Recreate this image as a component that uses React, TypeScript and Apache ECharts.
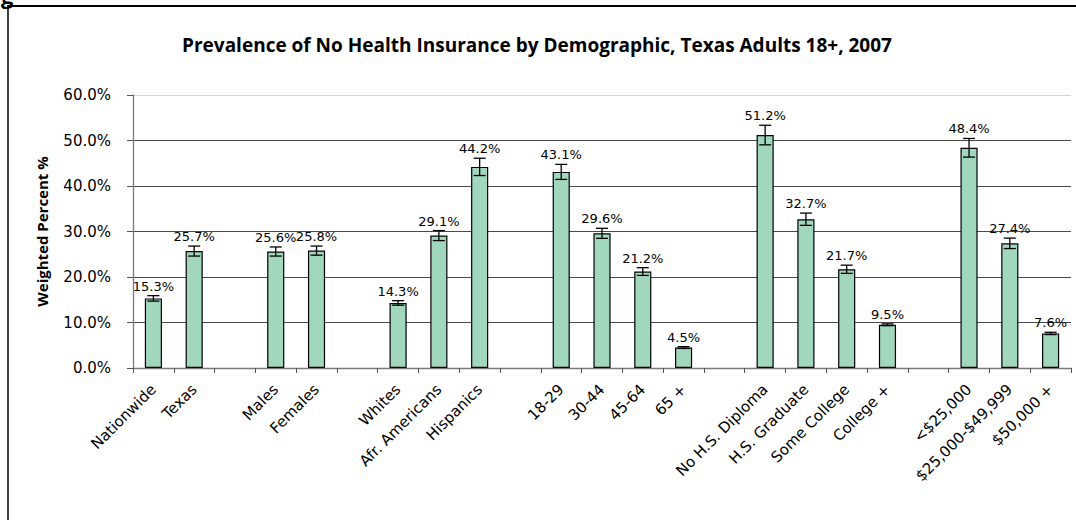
import React, { useEffect, useRef } from "react";
import * as echarts from "echarts";

const categories = [
  "Nationwide", "Texas", "",
  "Males", "Females", "",
  "Whites", "Afr. Americans", "Hispanics", "",
  "18-29", "30-44", "45-64", "65 +", "",
  "No H.S. Diploma", "H.S. Graduate", "Some College", "College +", "",
  "<$25,000", "$25,000-$49,999", "$50,000 +",
];
const values: (number | null)[] = [
  15.3, 25.7, null,
  25.6, 25.8, null,
  14.3, 29.1, 44.2, null,
  43.1, 29.6, 21.2, 4.5, null,
  51.2, 32.7, 21.7, 9.5, null,
  48.4, 27.4, 7.6,
];
const errors: (number | null)[] = [
  0.6, 1.1, null,
  1.0, 1.0, null,
  0.5, 1.1, 1.9, null,
  1.65, 1.1, 0.85, 0.2, null,
  2.15, 1.35, 0.9, 0.2, null,
  2.05, 1.15, 0.25,
];
const yTicks = [0, 10, 20, 30, 40, 50, 60];

const titleText = "Prevalence of No Health Insurance by Demographic, Texas Adults 18+, 2007";
const yAxisName = "Weighted Percent %";
const FONT = "'Open Sans', sans-serif";
const WIDE = "'DejaVu Sans', sans-serif";

export default function App() {
  const ref = useRef<HTMLDivElement>(null);
  useEffect(() => {
    document.body.style.margin = "0";
    document.body.style.overflow = "hidden";
    if (!ref.current) return;
    const chart = echarts.init(ref.current, null, { renderer: "svg" });
    const errData: any[] = [];
    values.forEach((v, i) => {
      if (v != null && errors[i] != null) {
        errData.push([i, v - (errors[i] as number), v + (errors[i] as number), v]);
      }
    });
    const gridColors = yTicks.map((t) => (t === 60 ? "#d4d4d4" : "#4a4a4a"));
    chart.setOption({
      animation: false,
      backgroundColor: "#ffffff",
      title: {
        text: titleText,
        left: 532,
        textAlign: "center",
        top: 30,
        textStyle: { fontFamily: FONT, fontSize: 19, fontWeight: "bold", color: "#000" },
      },
      graphic: [
        {
          type: "line",
          shape: { x1: 8, y1: 520, x2: 8, y2: 5.5 },
          style: { stroke: "#000", lineWidth: 1.5 },
          silent: true,
        },
        {
          type: "line",
          shape: { x1: 7.25, y1: 6, x2: 1076, y2: 6 },
          style: { stroke: "#000", lineWidth: 2 },
          silent: true,
        },
        {
          type: "text",
          x: 1,
          y: 6,
          style: {
            text: "g",
            fontFamily: FONT,
            fontSize: 22,
            fontWeight: "bold",
            fill: "#000",
            align: "left",
            verticalAlign: "bottom",
          },
          silent: true,
        },
      ],
      grid: { left: 133, right: 5, top: 95, bottom: 152, containLabel: false },
      xAxis: {
        type: "category",
        data: categories,
        boundaryGap: true,
        axisLine: { lineStyle: { color: "#7a7a7a", width: 1.3 } },
        axisTick: { show: true, alignWithLabel: false, interval: 0, length: 5, lineStyle: { color: "#555" } },
        axisLabel: {
          interval: 0,
          rotate: 45,
          fontFamily: WIDE,
          fontSize: 15,
          color: "#000",
          margin: 19,
        },
      },
      yAxis: {
        type: "value",
        min: 0,
        max: 60,
        interval: 10,
        name: yAxisName,
        nameLocation: "middle",
        nameGap: 84,
        nameTextStyle: { fontFamily: FONT, fontSize: 15, fontWeight: "bold", color: "#000" },
        axisLine: { show: true, lineStyle: { color: "#7a7a7a", width: 1.3 } },
        axisTick: { show: true, length: 6, lineStyle: { color: "#555" } },
        axisLabel: {
          fontFamily: WIDE,
          fontSize: 15,
          color: "#000",
          margin: 22,
          formatter: (v: number) => v.toFixed(1) + "%",
        },
        splitLine: { show: true, lineStyle: { color: gridColors, width: 1 } },
      },
      series: [
        {
          type: "bar",
          data: values.map((v) => (v == null ? "-" : v)),
          barWidth: "42%",
          itemStyle: { color: "#a0d7bd", borderColor: "#000", borderWidth: 1.2 },
          z: 2,
        },
        {
          type: "custom",
          data: errData,
          z: 3,
          renderItem: (params: any, api: any) => {
            const x = api.value(0);
            const lo = api.value(1);
            const hi = api.value(2);
            const v = api.value(3);
            const top = api.coord([x, hi]);
            const bot = api.coord([x, lo]);
            const half = 6;
            const st = { stroke: "#000", lineWidth: 1.3 };
            return {
              type: "group",
              children: [
                { type: "line", shape: { x1: top[0], y1: top[1], x2: bot[0], y2: bot[1] }, style: st },
                { type: "line", shape: { x1: top[0] - half, y1: top[1], x2: top[0] + half, y2: top[1] }, style: st },
                { type: "line", shape: { x1: bot[0] - half, y1: bot[1], x2: bot[0] + half, y2: bot[1] }, style: st },
                {
                  type: "text",
                  x: top[0],
                  y: top[1] - 3,
                  style: {
                    text: Number(v).toFixed(1) + "%",
                    align: "center",
                    verticalAlign: "bottom",
                    fontFamily: WIDE,
                    fontSize: 13,
                    fill: "#000",
                  },
                },
              ],
            };
          },
        },
      ],
    });
    return () => chart.dispose();
  }, []);
  return <div ref={ref} style={{ position: "absolute", left: 0, top: 0, width: 1076, height: 520 }} />;
}
